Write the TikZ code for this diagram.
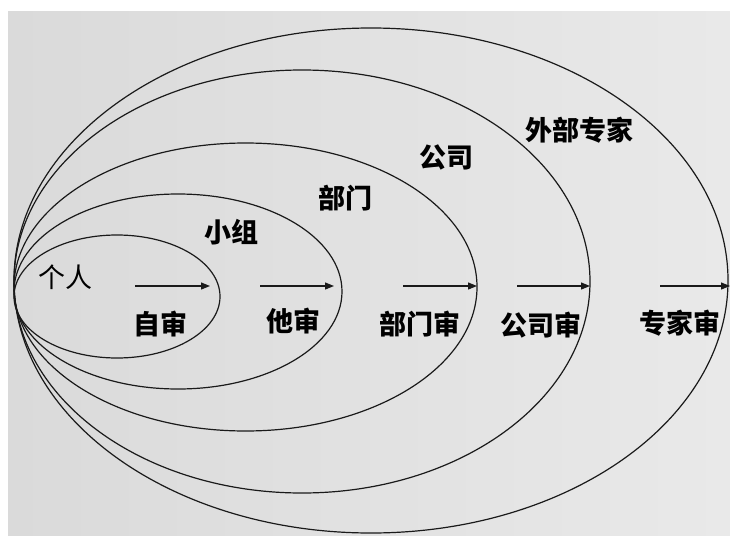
\documentclass[tikz,border=0pt]{standalone}
\usepackage{fontspec}
\newfontfamily\cjk{Noto Sans CJK SC}
\usetikzlibrary{arrows.meta}
\definecolor{bgA}{HTML}{DADADA}
\definecolor{bgB}{HTML}{E9E9E9}
\definecolor{ink}{HTML}{1A1A1A}
\begin{document}
\begin{tikzpicture}[x=1pt,y=-1pt,
  ring/.style={draw=ink,line width=1.2pt},
  flow/.style={draw=ink,line width=1.2pt,-{Triangle[length=9pt,width=7pt]}},
  lab/.style={font=\cjk\bfseries\fontsize{27}{27}\selectfont,text=black,inner sep=0pt},
  labthin/.style={font=\cjk\fontsize{27}{27}\selectfont,text=black,inner sep=0pt}]
\useasboundingbox (0,0) rectangle (730,535);
\fill[white] (0,0) rectangle (730,535);
\shade[left color=bgA,right color=bgB] (8,12) rectangle (730,535);
% rings
\draw[ring] (117,296.5) ellipse [x radius=103pt,y radius=61.5pt];
\draw[ring] (178,291.5) ellipse [x radius=164pt,y radius=97.5pt];
\draw[ring] (245.5,287) ellipse [x radius=231.5pt,y radius=144pt];
\draw[ring] (302,281.5) ellipse [x radius=288pt,y radius=211.5pt];
\draw[ring] (371,280.5) ellipse [x radius=357pt,y radius=252.5pt];
% ring labels
\node[labthin] (geren) at (65,277) {个人};
\node[lab] (xiaozu) at (231,232) {小组};
\node[lab] (bumen) at (345,198) {部门};
\node[lab] (gongsi) at (446,157) {公司};
\node[lab] (zhuanjia) at (579,130) {外部专家};
% review labels
\node[lab] (zishen) at (160,324) {自审};
\node[lab] (tashen) at (293,321) {他审};
\node[lab] (bumenshen) at (420,324) {部门审};
\node[lab] (gongsishen) at (541,325) {公司审};
\node[lab] (zhuanjiashen) at (680,323) {专家审};
% arrows
\coordinate (a1s) at (135,286); \coordinate (a1e) at (210,286);
\coordinate (a2s) at (260,286); \coordinate (a2e) at (334,286);
\coordinate (a3s) at (403,286); \coordinate (a3e) at (477,286);
\coordinate (a4s) at (517,286); \coordinate (a4e) at (590,286);
\coordinate (a5s) at (660,286); \coordinate (a5e) at (730,286);
\draw[flow] (a1s) -- (a1e);
\draw[flow] (a2s) -- (a2e);
\draw[flow] (a3s) -- (a3e);
\draw[flow] (a4s) -- (a4e);
\draw[flow] (a5s) -- (a5e);
\end{tikzpicture}
\end{document}
